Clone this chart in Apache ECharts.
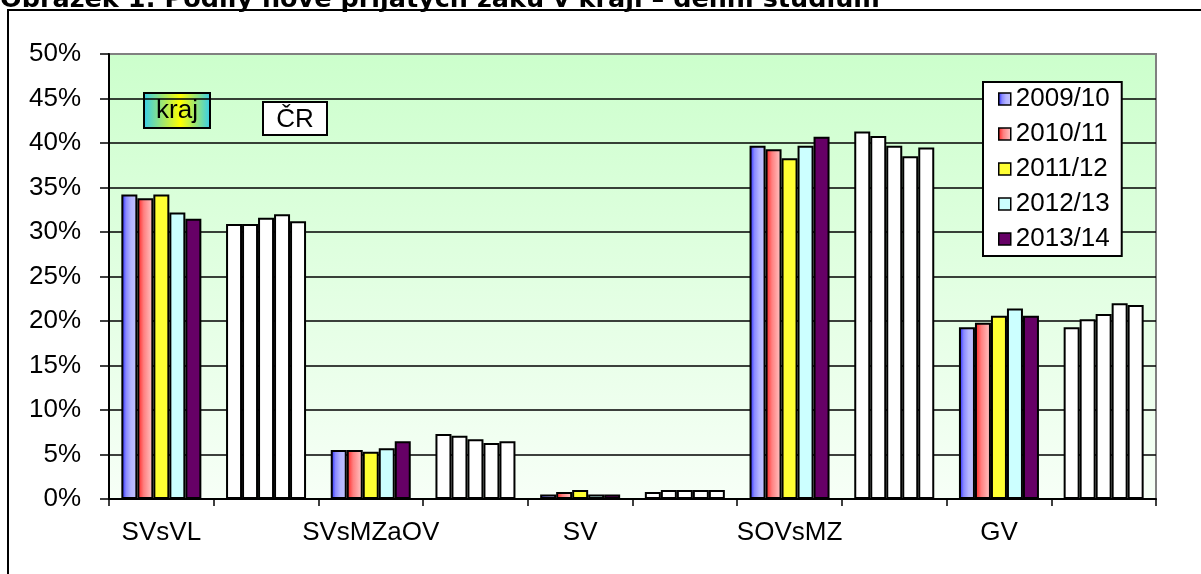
<!DOCTYPE html>
<html lang="cs">
<head>
<meta charset="UTF-8">
<title>Podíly nově přijatých žáků</title>
<style>
  html, body { margin: 0; padding: 0; background: #fff; }
  #chart { width: 1201px; height: 574px; }
</style>
</head>
<body>
<div id="chart"></div>
<script src="https://cdn.jsdelivr.net/npm/echarts@6/dist/echarts.min.js"></script>
<script>
// categories: kraj group on even slots, ČR group on odd slots
var categories = ['SVsVL', '', 'SVsMZaOV', '', 'SV', '', 'SOVsMZ', '', 'GV', ''];
var years = ['2009/10', '2010/11', '2011/12', '2012/13', '2013/14'];

// values in % (SVsVL, SVsMZaOV, SV, SOVsMZ, GV)
var kraj2009 = [34.2, 5.5, 0.5, 39.7, 19.3];
var kraj2010 = [33.8, 5.5, 0.8, 39.3, 19.8];
var kraj2011 = [34.2, 5.3, 1.0, 38.3, 20.6];
var kraj2012 = [32.2, 5.7, 0.5, 39.7, 21.4];
var kraj2013 = [31.5, 6.5, 0.5, 40.7, 20.6];

var cr2009 = [30.9, 7.3, 0.8, 41.3, 19.3];
var cr2010 = [30.9, 7.1, 1.0, 40.8, 20.2];
var cr2011 = [31.6, 6.7, 1.0, 39.7, 20.8];
var cr2012 = [32.0, 6.3, 1.0, 38.5, 22.0];
var cr2013 = [31.2, 6.5, 1.0, 39.5, 21.8];

var yTicks = { min: 0, max: 50, step: 5 };

var krajAll = [kraj2009, kraj2010, kraj2011, kraj2012, kraj2013];
var crAll = [cr2009, cr2010, cr2011, cr2012, cr2013];

function hgrad(stops) {
  return new echarts.graphic.LinearGradient(0, 0, 1, 0, stops.map(function (s) {
    return { offset: s[0], color: s[1] };
  }));
}

var colors = [
  hgrad([[0, '#1a1aff'], [0.3, '#8a8aff'], [0.6, '#b4b4ff'], [1, '#c4c4ff']]),
  hgrad([[0, '#ff1a1a'], [0.4, '#ff8080'], [1, '#ffcccc']]),
  '#ffff33',
  '#ccffff',
  '#660066'
];

var FONT = 'Liberation Sans, Arial, sans-serif';
var FS = 26;

var series = years.map(function (y, i) {
  var d = [];
  for (var k = 0; k < 5; k++) {
    d.push(krajAll[i][k]);
    d.push({ value: crAll[i][k], itemStyle: { color: '#ffffff' } });
  }
  return {
    name: y,
    type: 'bar',
    data: d,
    barWidth: 16,
    barGap: '0%',
    itemStyle: { color: colors[i], borderColor: '#000', borderWidth: 2 },
    emphasis: { disabled: true }
  };
});

var chart = echarts.init(document.getElementById('chart'), null, { renderer: 'canvas' });

chart.setOption({
  animation: false,
  backgroundColor: '#fff',
  textStyle: { fontFamily: FONT, color: '#000' },
  grid: {
    left: 109, right: 45, top: 54, bottom: 75,
    show: true,
    borderColor: '#808080',
    borderWidth: 2,
    backgroundColor: new echarts.graphic.LinearGradient(0, 0, 0, 1, [
      { offset: 0, color: '#ccffcc' },
      { offset: 1, color: '#f7fff7' }
    ])
  },
  legend: {
    orient: 'vertical',
    left: 983,
    top: 82,
    itemWidth: 12,
    itemHeight: 12,
    itemGap: 9,
    padding: [4, 12, 4, 15],
    backgroundColor: '#fff',
    borderColor: '#000',
    borderWidth: 2,
    borderRadius: 0,
    selectedMode: false,
    icon: 'rect',
    itemStyle: { borderWidth: 1.5 },
    textStyle: { fontSize: FS, fontFamily: FONT, color: '#000', lineHeight: 25 },
    data: years
  },
  xAxis: {
    type: 'category',
    data: categories,
    axisLine: { lineStyle: { color: '#000', width: 2 } },
    axisTick: { show: true, interval: 0, length: 7, lineStyle: { color: '#000', width: 1.5 } },
    axisLabel: { interval: 0, margin: 21, fontSize: FS, fontFamily: FONT, color: '#000' }
  },
  yAxis: {
    type: 'value',
    min: yTicks.min,
    max: yTicks.max,
    interval: yTicks.step,
    axisLine: { show: true, lineStyle: { color: '#000', width: 2 } },
    axisTick: { show: true, length: 9, lineStyle: { color: '#000', width: 1.5 } },
    axisLabel: { formatter: '{value}%', margin: 28, fontSize: FS, fontFamily: FONT, color: '#000' },
    splitLine: { show: true, showMaxLine: false, lineStyle: { color: '#000', width: 1.5 } }
  },
  series: series,
  graphic: [
    {
      type: 'text', left: 0, top: -13, silent: true,
      style: {
        text: 'Obrázek 1: Podíly nově přijatých žáků v kraji – denní studium',
        font: 'bold 25.5px "DejaVu Sans", Verdana, sans-serif', fill: '#000'
      }
    },
    {
      type: 'rect', silent: true, z: 100,
      shape: { x: 8, y: 10, width: 1400, height: 800 },
      style: { fill: 'none', stroke: '#000', lineWidth: 2 }
    },
    {
      type: 'group', left: 143, top: 92, z: 100,
      children: [
        {
          type: 'rect', shape: { x: 0, y: 0, width: 66, height: 35 },
          style: {
            fill: new echarts.graphic.LinearGradient(0, 0, 1, 0, [
              { offset: 0, color: '#33ccee' },
              { offset: 0.55, color: '#ffff00' },
              { offset: 1, color: '#33ccee' }
            ]),
            stroke: '#000', lineWidth: 2
          }
        },
        {
          type: 'text', x: 33, y: 18,
          style: { text: 'kraj', font: FS + 'px ' + FONT, fill: '#000', align: 'center', verticalAlign: 'middle' }
        }
      ]
    },
    {
      type: 'group', left: 262, top: 101, z: 100,
      children: [
        {
          type: 'rect', shape: { x: 0, y: 0, width: 64, height: 33 },
          style: { fill: '#fff', stroke: '#000', lineWidth: 2 }
        },
        {
          type: 'text', x: 32, y: 18,
          style: { text: 'ČR', font: FS + 'px ' + FONT, fill: '#000', align: 'center', verticalAlign: 'middle' }
        }
      ]
    }
  ]
});
</script>
</body>
</html>
